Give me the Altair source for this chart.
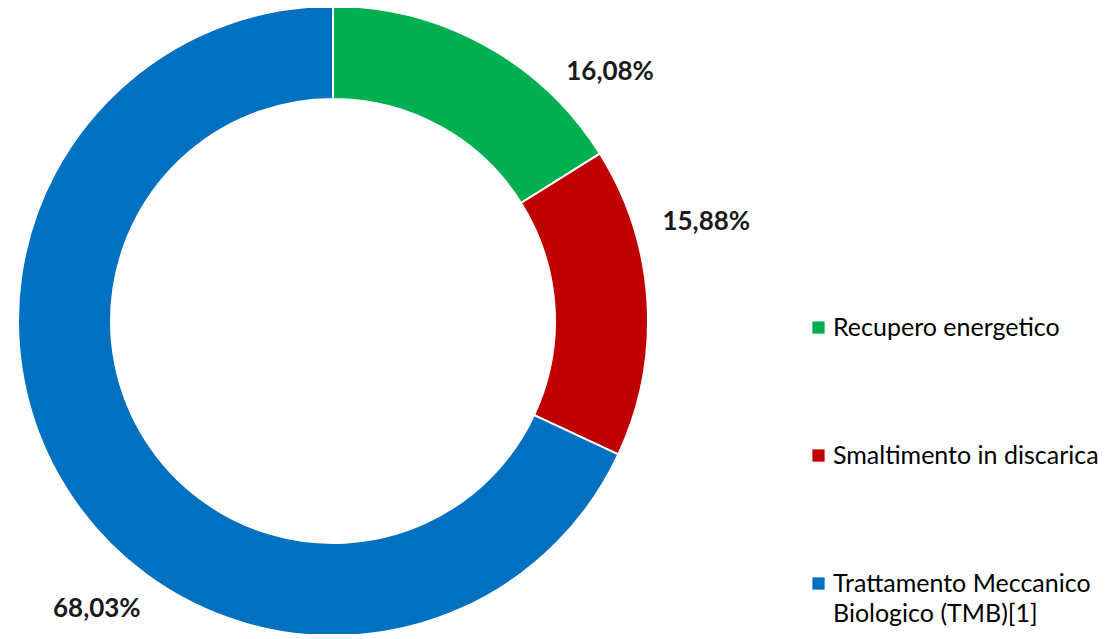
import altair as alt
import pandas as pd

categories = ["Recupero energetico", "Smaltimento in discarica", "Trattamento Meccanico Biologico (TMB)[1]"]
values = [16.08, 15.88, 68.03]
labels = ["16,08%", "15,88%", "68,03%"]
colors = ["#00B050", "#C00000", "#0070C0"]

df = pd.DataFrame({"categoria": categories, "valore": values, "etichetta": labels, "ordine": [0, 1, 2]})

FONT = "Lato"

legend = alt.Legend(
    title=None,
    orient="none",
    legendX=798,
    legendY=307,
    direction="vertical",
    symbolType="square",
    symbolSize=150,
    symbolStrokeWidth=0,
    labelFont=FONT,
    labelFontSize=25,
    labelColor="#000000",
    labelLimit=400,
    labelOffset=2,
    rowPadding=102,
    padding=0,
    labelExpr="datum.label == 'Trattamento Meccanico Biologico (TMB)[1]' ? ['Trattamento Meccanico', 'Biologico (TMB)[1]'] : datum.label",
)

arcs = alt.Chart(df).mark_arc(innerRadius=222, outerRadius=315, stroke="white", strokeWidth=2).encode(
    theta=alt.Theta("valore:Q", stack=True),
    order=alt.Order("ordine:Q"),
    color=alt.Color("categoria:N", scale=alt.Scale(domain=categories, range=colors), sort=categories, legend=legend),
)

stacked = alt.Chart(df).transform_stack(
    stack="valore", as_=["v0", "v1"], groupby=[], sort=[alt.SortField("ordine")]
).transform_calculate(mid="(datum.v0 + datum.v1) / 2")

offsets = {
    "Recupero energetico": (98, 75),
    "Smaltimento in discarica": (4, -76),
    "Trattamento Meccanico Biologico (TMB)[1]": (76, 89),
}

texts = []
for cat in categories:
    dx, dy = offsets[cat]
    t = stacked.transform_filter(alt.datum.categoria == cat).mark_text(
        radius=370, dx=dx, dy=dy, font=FONT, fontSize=26, fontWeight="bold", color="#1a1a1a"
    ).encode(
        theta=alt.Theta("mid:Q", stack=None),
        text="etichetta:N",
    )
    texts.append(t)

chart = alt.layer(arcs, *texts).properties(
    width=650, height=626,
    autosize=alt.AutoSizeParams(type="none"),
    padding={"left": 0, "top": 0, "right": 446, "bottom": 0},
).configure_view(stroke=None).configure(
    style={"guide-label": {"lineHeight": 30}}
)

chart.save("out.html", embed_options={"renderer": "svg", "actions": False})
